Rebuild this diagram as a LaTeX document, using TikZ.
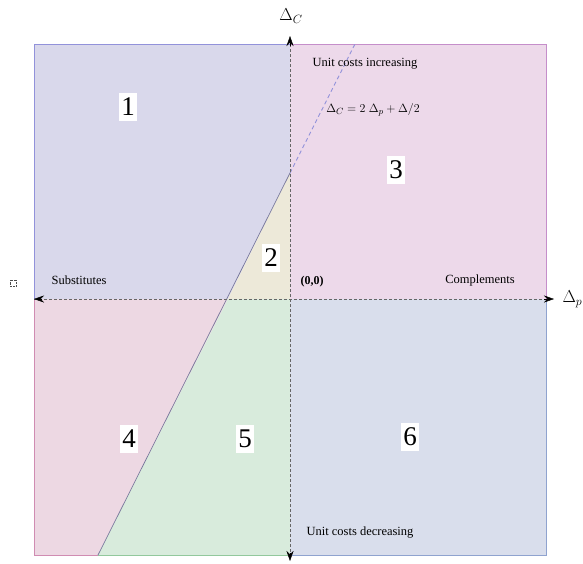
\documentclass[tikz,border=0pt]{standalone}
\usepackage{fontspec}
\setmainfont{Liberation Serif}
\usepackage{xcolor}
\usetikzlibrary{arrows.meta,positioning}

\definecolor{regA}{HTML}{D9D8EB}\definecolor{regAline}{HTML}{9292DA}
\definecolor{regB}{HTML}{EDE9D9}
\definecolor{regC}{HTML}{EDD9EA}\definecolor{regCline}{HTML}{C58ECA}
\definecolor{regD}{HTML}{EDD8E3}\definecolor{regDline}{HTML}{D08CB2}
\definecolor{regE}{HTML}{D8EBDC}\definecolor{regEline}{HTML}{92C89C}
\definecolor{regF}{HTML}{D9DEEC}\definecolor{regFline}{HTML}{8FA3CF}

\begin{document}
\begin{tikzpicture}[
    x=1pt, y=-1pt,
    >={Stealth[length=10pt,width=7pt]},
    axis/.style={draw=black!60, dash pattern=on 3pt off 2pt, line width=0.7pt},
    num/.style={fill=white, inner xsep=2pt, inner ysep=5pt, font=\fontsize{27}{29}\selectfont},
    note/.style={font=\fontsize{12.5}{14}\selectfont, inner sep=1pt},
  ]
    \useasboundingbox (0,0) rectangle (583,563);

    % --- corners of the square and the cut points of the line ---
    \coordinate (tl) at (34,44);   \coordinate (tm) at (290,44);  \coordinate (tr) at (546,44);
    \coordinate (ml) at (34,299);  \coordinate (o)  at (290,299); \coordinate (mr) at (546,299);
    \coordinate (bl) at (34,555);  \coordinate (bm) at (290,555); \coordinate (br) at (546,555);
    \coordinate (yi) at (290,173); % line meets vertical axis
    \coordinate (xi) at (228,299); % line meets horizontal axis
    \coordinate (lb) at (98,555);  % line meets bottom edge
    \coordinate (lt) at (355,44);  % dashed continuation at top

    % --- the six regions ---
    \fill[regA] (tl) -- (tm) -- (yi) -- (xi) -- (ml) -- cycle;
    \fill[regB] (yi) -- (o) -- (xi) -- cycle;
    \fill[regC] (tm) -- (tr) -- (mr) -- (o) -- cycle;
    \fill[regD] (ml) -- (xi) -- (lb) -- (bl) -- cycle;
    \fill[regE] (xi) -- (o) -- (bm) -- (lb) -- cycle;
    \fill[regF] (o) -- (mr) -- (br) -- (bm) -- cycle;

    % borders
    \draw[regAline, line width=0.9pt] (ml) -- (tl) -- (tm);
    \draw[regCline, line width=0.9pt] (tm) -- (tr) -- (mr);
    \draw[regDline, line width=0.9pt] (ml) -- (bl) -- (lb);
    \draw[regEline, line width=0.9pt] (lb) -- (bm);
    \draw[regFline, line width=0.9pt] (mr) -- (br) -- (bm);

    % the line and its dashed continuation
    \draw[regAline!60!black!80, line width=0.7pt] (yi) -- (lb);
    \draw[regAline, dash pattern=on 4pt off 3pt, line width=0.9pt] (yi) -- (lt);

    % --- axes ---
    \draw[axis] (ml) -- (mr);
    \draw[axis] (tm) -- (bm);
    \draw[->] (ml) ++(8,0) -- ++(-8,0);
    \draw[->] (mr) ++(-2,0) -- ++(10,0);
    \draw[->] (tm) ++(0,2) -- ++(0,-10);
    \draw[->] (bm) ++(0,-2) -- ++(0,8);

    \node[font=\fontsize{18}{20}\selectfont] (dc) at (291,16) {$\Delta_C$};
    \node[anchor=west, font=\fontsize{18}{20}\selectfont] (dp) at (559,299) {$\Delta_p$};
    \node[draw=black!70, densely dotted, minimum size=6pt, inner sep=0pt] (stub) at (13,283) {};

    % --- region numbers ---
    \node[num] (r1) at (128,107) {1};
    \node[num] (r2) at (271,258) {2};
    \node[num] (r3) at (396,170) {3};
    \node[num] (r4) at (129,439) {4};
    \node[num] (r5) at (245,439) {5};
    \node[num] (r6) at (410,437) {6};

    % --- annotations ---
    \node[note] (up)   at (365,64)  {Unit costs increasing};
    \node[note] (down) at (360,533) {Unit costs decreasing};
    \node[note] (sub)  at (79,280)  {Substitutes};
    \node[note] (com)  at (480,280) {Complements};
    \node[note, font=\fontsize{12}{14}\selectfont\bfseries] (org) at (312,282) {(0,0)};
    \node[note, font=\fontsize{12.5}{14}\selectfont] (eq) at (373,110)
      {$\Delta_C = 2\;\Delta_p + \Delta/2$};
  \end{tikzpicture}
\end{document}
